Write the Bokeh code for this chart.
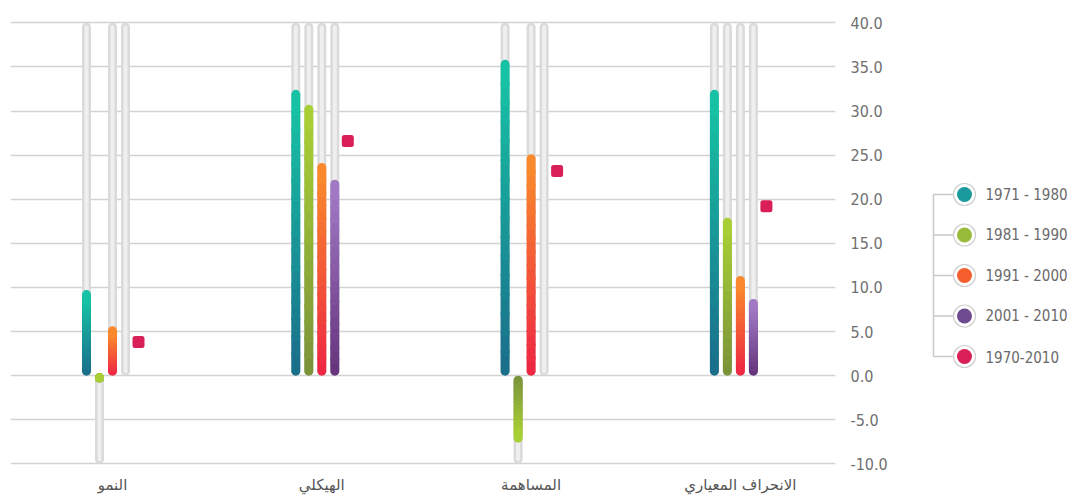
import numpy as np
from bokeh.plotting import figure
from bokeh.models import ColumnDataSource, Range1d, FixedTicker, NumeralTickFormatter
from bokeh.layouts import row
from bokeh.core.properties import value
from bokeh.embed import file_html
from bokeh.resources import INLINE

# ---------------- data ----------------
categories = ["النمو", "الهيكلي", "المساهمة", "الانحراف المعياري"]
series_labels = ["1971 - 1980", "1981 - 1990", "1991 - 2000", "2001 - 2010"]
point_label = "1970-2010"
v_1971_1980 = [9.7, 32.4, 35.8, 32.4]
v_1981_1990 = [-0.5, 30.7, -7.6, 17.9]
v_1991_2000 = [5.6, 24.1, 25.1, 11.3]
v_2001_2010 = [0.0, 22.2, 0.0, 8.7]
v_1970_2010 = [3.8, 26.6, 23.2, 19.2]
y_ticks = [-10, -5, 0, 5, 10, 15, 20, 25, 30, 35, 40]
track_max = 40
track_min = -10

# ---------------- styles ----------------
bar_bottom = ["#1a6c8a", "#7a923a", "#ee2444", "#64337c"]
bar_top = ["#17c4a5", "#a9d035", "#f98c2b", "#a27ac6"]
legend_colors = ["#1a9a9c", "#98bb3a", "#f45e2c", "#6e4a8e"]
point_color = "#d91f57"
NUM_FONT = "Liberation Sans Narrow, DejaVu Sans Condensed, sans-serif"
AR_FONT = "DejaVu Sans, sans-serif"

PX_X = 209.3          # px per category unit
PX_Y = 8.83           # px per value unit
slot = 13.0 / PX_X
cap = 4.5 / PX_Y
N_PIECES = 16

series_values = [v_1971_1980, v_1981_1990, v_1991_2000, v_2001_2010]


def mix(c1, c2, t):
    a = [int(c1[i:i + 2], 16) for i in (1, 3, 5)]
    b = [int(c2[i:i + 2], 16) for i in (1, 3, 5)]
    return "#%02x%02x%02x" % tuple(int(round(a[k] + (b[k] - a[k]) * t)) for k in range(3))


track = dict(x=[], y0=[], y1=[])
fill = dict(x=[], y0=[], y1=[], color=[])
for j, vals in enumerate(series_values):
    for i, v in enumerate(vals):
        x = i + (j - 2) * slot
        if v < 0:
            track["x"].append(x); track["y0"].append(-cap); track["y1"].append(track_min + cap)
        else:
            track["x"].append(x); track["y0"].append(cap); track["y1"].append(track_max - cap)
        if v == 0:
            continue
        s = 1 if v > 0 else -1
        a, b = s * cap, v - s * cap
        if s * (b - a) < 0:
            a = b = v / 2.0
        edges = np.linspace(a, b, N_PIECES + 1)
        for k in range(N_PIECES):
            fill["x"].append(x)
            fill["y0"].append(edges[k])
            fill["y1"].append(edges[k + 1])
            fill["color"].append(mix(bar_bottom[j], bar_top[j], (k + 0.5) / N_PIECES))

pts = dict(x=[i + 2 * slot for i in range(len(categories))], y=v_1970_2010)

# ---------------- layout numbers (page px) ----------------
H = 497
TOP = 17
BOTTOM = 31
frame_left = 10
frame_w = 825
border_right = 65
x0 = (frame_left - 112) / PX_X
y_lo, y_hi = -10.3, 40.6

p = figure(width=frame_left + frame_w + border_right, height=H,
           x_range=Range1d(x0, x0 + frame_w / PX_X),
           y_range=Range1d(y_lo, y_hi),
           y_axis_location="right",
           output_backend="svg", toolbar_location=None,
           min_border_left=frame_left, min_border_right=border_right,
           min_border_top=TOP, min_border_bottom=BOTTOM)
p.outline_line_color = None
p.background_fill_color = "white"
p.xgrid.visible = False
p.ygrid.ticker = FixedTicker(ticks=y_ticks)
p.ygrid.grid_line_color = "#d2d2d2"
p.ygrid.grid_line_width = 1.3

ts = ColumnDataSource(track)
p.segment(x0="x", y0="y0", x1="x", y1="y1", source=ts, line_color="#dadada",
          line_width=9, line_cap="round")
p.segment(x0="x", y0="y0", x1="x", y1="y1", source=ts, line_color="#efefef",
          line_width=4, line_cap="round")
fs = ColumnDataSource(fill)
p.segment(x0="x", y0="y0", x1="x", y1="y1", source=fs, line_color="color",
          line_width=9, line_cap="round")
p.scatter(x="x", y="y", source=ColumnDataSource(pts), marker="square", size=7,
          fill_color=point_color, line_color=point_color, line_width=5, line_join="round")

ya = p.yaxis[0]
ya.ticker = FixedTicker(ticks=y_ticks)
ya.formatter = NumeralTickFormatter(format="0.0")
ya.axis_line_color = None
ya.major_tick_line_color = None
ya.minor_tick_line_color = None
ya.major_tick_out = 0
ya.major_label_standoff = 15
ya.major_label_text_font = NUM_FONT
ya.major_label_text_font_size = "16px"
ya.major_label_text_color = "#707070"

xa = p.xaxis[0]
xa.ticker = FixedTicker(ticks=list(range(len(categories))))
xa.major_label_overrides = {i: c for i, c in enumerate(categories)}
xa.axis_line_color = None
xa.major_tick_line_color = None
xa.minor_tick_line_color = None
xa.major_tick_out = 0
xa.major_label_standoff = 9
xa.major_label_text_font = AR_FONT
xa.major_label_text_font_size = "15px"
xa.major_label_text_color = "#555555"

# ---------------- legend figure (coordinates = page px) ----------------
LX0 = frame_left + frame_w + border_right
lg = figure(width=1072 - LX0, height=H, x_range=Range1d(LX0, 1072),
            y_range=Range1d(H - BOTTOM, TOP),
            output_backend="svg", toolbar_location=None,
            x_axis_type=None, y_axis_type=None,
            min_border_left=0, min_border_right=0,
            min_border_top=TOP, min_border_bottom=BOTTOM)
lg.outline_line_color = None
lg.grid.visible = False

ent_y = [194, 234.5, 275, 315.5, 356]
lab = series_labels + [point_label]
cols = legend_colors + [point_color]
lg.segment(x0=[933], y0=[ent_y[0]], x1=[933], y1=[ent_y[-1]], line_color="#c9c9c9", line_width=1.5)
lg.segment(x0=[933] * 5, y0=ent_y, x1=[954] * 5, y1=ent_y, line_color="#c9c9c9", line_width=1.5)
lg.scatter(x=[964] * 5, y=ent_y, marker="circle", size=22, fill_color="white",
           line_color="#cfcfcf", line_width=1.2)
lg.scatter(x=[964] * 5, y=ent_y, marker="circle", size=15, fill_color=cols, line_color=None)
lg.text(x=[985] * 5, y=ent_y, text=lab, text_font=value(NUM_FONT), text_font_size="15px",
        text_color="#6a6a6a", text_baseline="middle", text_align="left")

layout = row(p, lg)
open("out.html", "w").write(file_html(layout, INLINE))
